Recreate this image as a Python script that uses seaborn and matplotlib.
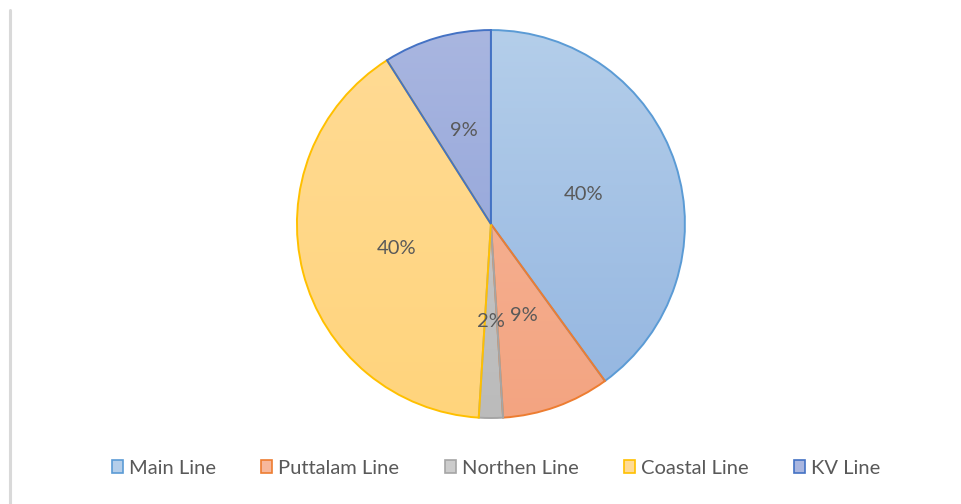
import numpy as np
import matplotlib
matplotlib.use("Agg")
import matplotlib.pyplot as plt
import matplotlib.colors as mcolors
from matplotlib.lines import Line2D
import seaborn as sns

# Share of each line
lines = ["Main Line", "Puttalam Line", "Northen Line", "Coastal Line", "KV Line"]
shares = [40, 9, 2, 40, 9]

# Outline colours and gradient fill (top, bottom) per slice
edge_colors = ["#5B9BD5", "#ED7D31", "#A5A5A5", "#FFC000", "#4472C4"]
fill_top = ["#B4CEEA", "#F7B89C", "#CCCCCC", "#FFDB95", "#A9B6E0"]
fill_bottom = ["#93B5E0", "#F3A481", "#BBBBBB", "#FFD47C", "#8A9ED7"]

sns.set_theme(style="white")
plt.rcParams["font.family"] = ["Lato", "DejaVu Sans"]
text_grey = "#595959"

fig = plt.figure(figsize=(9.61, 5.04), dpi=100)
fig.patch.set_facecolor("white")

# thin rule on the left edge
fig.add_artist(Line2D([0.0105, 0.0105], [0.0, 0.98], color="#D9D9D9", lw=2.2,
                      transform=fig.transFigure))

ax = fig.add_axes([0.309, 0.1706, 0.4037, 0.7698])
palette = sns.color_palette(edge_colors)

wedges, texts = ax.pie(
    shares,
    startangle=90,
    counterclock=False,
    colors=palette,
    labels=[f"{v}%" for v in shares],
    labeldistance=0.5,
    wedgeprops=dict(linewidth=1.4, zorder=3),
    textprops=dict(color=text_grey, fontsize=14.5),
)

for w, ec, top, bot in zip(wedges, edge_colors, fill_top, fill_bottom):
    grad = np.linspace(0, 1, 256)[:, None]
    c0 = np.array(mcolors.to_rgb(top))
    c1 = np.array(mcolors.to_rgb(bot))
    img = c0[None, None, :] * (1 - grad[..., None]) + c1[None, None, :] * grad[..., None]
    img = np.repeat(img, 4, axis=1)
    im = ax.imshow(img, extent=[-1, 1, -1, 1], origin="upper", zorder=2,
                   interpolation="bilinear", aspect="auto")
    im.set_clip_path(w)
    w.set_facecolor("none")
    w.set_edgecolor(ec)
    w.set_clip_on(False)

for t in texts:
    t.set_zorder(5)
    t.set_horizontalalignment("center")
    t.set_verticalalignment("center")

ax.set_xlim(-1.0, 1.0)
ax.set_ylim(-1.0, 1.0)
ax.set_aspect("equal")
ax.axis("off")

handles = [
    plt.Rectangle((0, 0), 1, 1, facecolor=t, edgecolor=e, linewidth=1.2)
    for t, e in zip(fill_top, edge_colors)
]
fig.legend(
    handles, lines,
    loc="center", bbox_to_anchor=(0.516, 0.071),
    ncol=5, frameon=False,
    fontsize=14.5, handlelength=0.55, handleheight=0.6,
    handletextpad=0.3, columnspacing=2.25,
    labelcolor=text_grey,
)

fig.savefig("out.png", dpi=100, facecolor="white")
